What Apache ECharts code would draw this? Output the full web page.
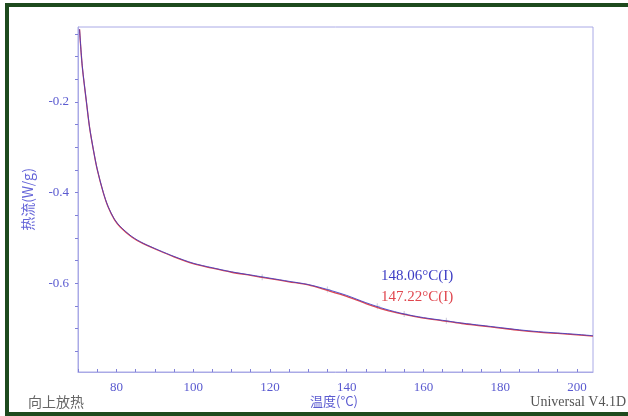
<!DOCTYPE html>
<html>
<head>
<meta charset="utf-8">
<title>DSC</title>
<script src="https://cdn.jsdelivr.net/npm/echarts@6/dist/echarts.min.js"></script>
<style>
  html, body { margin: 0; padding: 0; background: #fff; }
  #chart { width: 628px; height: 416px; }
</style>
</head>
<body>
<div id="chart"></div>
<script>
// temperature (°C) and heat flow (W/g)
const temps = [70.4, 71.1, 72.2, 73.0, 74.0, 75.0, 76.6, 77.8, 79.5, 81, 84, 87, 91, 95, 100, 105, 110, 115, 120, 125, 130, 135, 140, 145, 150, 155, 160, 165, 170, 175, 180, 185, 190, 195, 200, 204.2]
const blueFlow = [-0.04, -0.12, -0.2, -0.255, -0.305, -0.348, -0.40, -0.43, -0.459, -0.475, -0.497, -0.512, -0.527, -0.541, -0.556, -0.566, -0.575, -0.582, -0.589, -0.596, -0.603, -0.614, -0.627, -0.643, -0.657, -0.668, -0.676, -0.682, -0.688, -0.693, -0.698, -0.703, -0.707, -0.710, -0.713, -0.716]
const redFlow = [-0.04, -0.121, -0.201, -0.256, -0.306, -0.349, -0.401, -0.431, -0.46, -0.476, -0.498, -0.513, -0.528, -0.542, -0.557, -0.567, -0.576, -0.583, -0.59, -0.597, -0.604, -0.616, -0.629, -0.645, -0.659, -0.669, -0.677, -0.683, -0.689, -0.694, -0.699, -0.704, -0.708, -0.711, -0.714, -0.717]

// small analysis crosses along the transition
const crossTemps = [118, 135, 148, 155, 166]
const crossFlow = [-0.587, -0.614, -0.651, -0.668, -0.683]

const xMajor = [80, 100, 120, 140, 160, 180, 200]
const xMinor = [70, 75, 80, 85, 90, 95, 100, 105, 110, 115, 120, 125, 130, 135, 140, 145, 150, 155, 160, 165, 170, 175, 180, 185, 190, 195, 200]
const yMajor = [-0.6, -0.4, -0.2]
const yMinor = [-0.75, -0.7, -0.65, -0.6, -0.55, -0.5, -0.45, -0.4, -0.35, -0.3, -0.25, -0.2, -0.15, -0.1, -0.05]

const tgBlue = '148.06°C(I)'
const tgRed = '147.22°C(I)'

const blue = '#3c3cc4'
const red = '#e0474f'
const axisCol = '#aaaae6'
const labelCol = '#5a5ad0'
const serif = '"Liberation Serif", "DejaVu Serif", serif'
const cjk = '"Noto Sans CJK SC", sans-serif'

const zip = (xs, ys) => xs.map((x, i) => [x, ys[i]])

const chart = echarts.init(document.getElementById('chart'))

const plus = 'path://M4,0L6,0L6,4L10,4L10,6L6,6L6,10L4,10L4,6L0,6L0,4L4,4Z'

const option = {
  animation: false,
  backgroundColor: '#fff',
  grid: {
    left: 78,
    top: 27,
    right: 35,
    bottom: 44,
    show: true,
    borderColor: axisCol,
    borderWidth: 1,
    backgroundColor: '#fff'
  },
  xAxis: {
    type: 'value',
    min: 70,
    max: 204.2,
    axisLine: { show: true, lineStyle: { color: axisCol, width: 1 } },
    axisTick: { show: true, inside: true, length: 3, customValues: xMinor, lineStyle: { color: '#8080d8' } },
    axisLabel: {
      customValues: xMajor,
      color: labelCol,
      fontFamily: serif,
      fontSize: 13,
      margin: 9
    },
    splitLine: { show: false }
  },
  yAxis: {
    type: 'value',
    min: -0.796,
    max: -0.035,
    name: '热流(W/g)',
    nameLocation: 'middle',
    nameRotate: 90,
    nameGap: 43,
    nameTextStyle: { color: '#6464d8', fontFamily: cjk, fontSize: 14 },
    axisLine: { show: true, lineStyle: { color: axisCol, width: 1 } },
    axisTick: { show: true, length: 3, customValues: yMinor, lineStyle: { color: '#8080d8' } },
    axisLabel: {
      customValues: yMajor,
      color: labelCol,
      fontFamily: serif,
      fontSize: 13,
      margin: 9,
      formatter: (v) => v.toFixed(1)
    },
    splitLine: { show: false }
  },
  series: [
    {
      type: 'scatter',
      data: zip(crossTemps, crossFlow),
      symbol: plus,
      symbolSize: 6,
      itemStyle: { color: '#c8c8d8' },
      z: 1
    },
    {
      type: 'line',
      data: zip(temps, redFlow),
      smooth: 0.3,
      showSymbol: false,
      lineStyle: { color: red, width: 1.3 },
      z: 2
    },
    {
      type: 'line',
      data: zip(temps, blueFlow),
      smooth: 0.3,
      showSymbol: false,
      lineStyle: { color: blue, width: 1, opacity: 0.85 },
      z: 3
    }
  ],
  graphic: [
    {
      type: 'rect',
      shape: { x: 7, y: 5, width: 660, height: 409 },
      style: { fill: null, stroke: '#1d4a1d', lineWidth: 4 },
      silent: true
    },
    {
      type: 'text', left: 381, top: 269,
      style: { text: tgBlue, fill: blue, font: '15px ' + serif }
    },
    {
      type: 'text', left: 381, top: 290,
      style: { text: tgRed, fill: red, font: '15px ' + serif }
    },
    {
      type: 'text', left: 28, top: 395,
      style: { text: '向上放热', fill: '#666', font: '14px ' + cjk }
    },
    {
      type: 'text', left: 310, top: 395,
      style: { text: '温度(°C)', fill: labelCol, font: '13px ' + cjk }
    },
    {
      type: 'text', right: 2, top: 395,
      style: { text: 'Universal V4.1D', fill: '#555', font: '14px ' + serif }
    }
  ]
}

chart.setOption(option)
window.addEventListener('resize', () => chart.resize())
</script>
</body>
</html>
